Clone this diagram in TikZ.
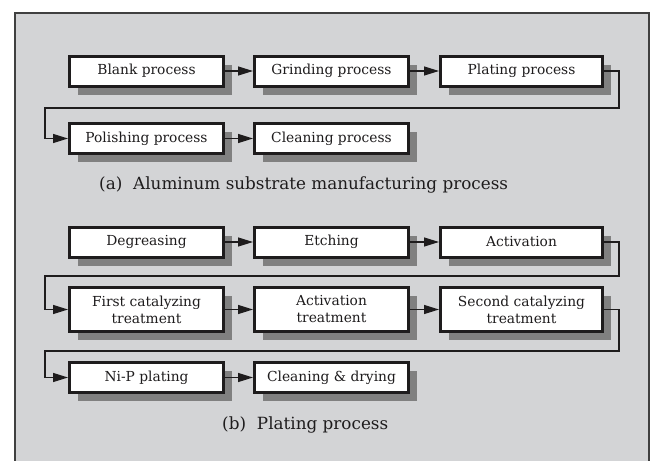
\documentclass[tikz,border=0pt]{standalone}
\usepackage{fontspec}
\setmainfont{DejaVu Serif}
\usetikzlibrary{arrows.meta,shadows}

\definecolor{panelgray}{RGB}{211,212,214}
\definecolor{shadowgray}{RGB}{128,128,128}
\definecolor{inkblack}{RGB}{30,28,29}

\tikzset{
  proc/.style={draw=inkblack, line width=3pt, fill=white, inner sep=0pt,
    minimum width=154pt, minimum height=30pt, align=center, text=inkblack,
    font=\fontsize{13.8}{17}\selectfont,
    drop shadow={shadow xshift=8.5pt, shadow yshift=-8.5pt,
      fill=shadowgray, opacity=1}},
  wider/.style={minimum width=162pt},
  tall/.style={minimum height=44pt},
  flow/.style={draw=inkblack, line width=1.3pt,
    -{Triangle[length=15pt,width=9pt]}},
  caption/.style={anchor=base west, inner sep=0pt, text=inkblack,
    font=\fontsize{16.8}{20}\selectfont}
}

\begin{document}
\begin{tikzpicture}[x=1pt,y=-1pt]
  \useasboundingbox (0,0) rectangle (654,461);
  % panel
  \draw[draw=black!75, line width=1.5pt, fill=panelgray] (15,13) rectangle (649,475);

  % (a) aluminum substrate
  \node[proc] (blank) at (146.5,71) {Blank process};
  \node[proc] (grind) at (331.5,71) {Grinding process};
  \node[proc,wider] (platea) at (521.5,71) {Plating process};
  \node[proc] (polish) at (146.5,138.5) {Polishing process};
  \node[proc] (cleana) at (331.5,138.5) {Cleaning process};
  \coordinate (ra) at (619,108);
  \coordinate (la) at (45,108);
  \draw[flow] (blank) -- (grind);
  \draw[flow] (grind) -- (platea);
  \draw[flow] (platea.east) -| (ra) -- (la) |- (polish.west);
  \draw[flow] (polish) -- (cleana);
  \node[caption] (capa) at (99,189)
    {(a)\hspace{0.65em}Aluminum substrate manufacturing process};

  % (b) plating
  \node[proc] (degrease) at (146.5,242) {Degreasing};
  \node[proc] (etch) at (331.5,242) {Etching};
  \node[proc,wider] (activ) at (521.5,242) {Activation};
  \node[proc,tall] (firstcat) at (146.5,309.5) {First catalyzing\\treatment};
  \node[proc,tall] (activtr) at (331.5,309.5) {Activation\\treatment};
  \node[proc,tall,wider] (secondcat) at (521.5,309.5) {Second catalyzing\\treatment};
  \node[proc] (nip) at (146.5,377.5) {Ni-P plating};
  \node[proc] (cleandry) at (331.5,377.5) {Cleaning \& drying};
  \coordinate (rb) at (619,276);
  \coordinate (lb) at (45,276);
  \coordinate (rc) at (619,351);
  \coordinate (lc) at (45,351);
  \draw[flow] (degrease) -- (etch);
  \draw[flow] (etch) -- (activ);
  \draw[flow] (activ.east) -| (rb) -- (lb) |- (firstcat.west);
  \draw[flow] (firstcat) -- (activtr);
  \draw[flow] (activtr) -- (secondcat);
  \draw[flow] (secondcat.east) -| (rc) -- (lc) |- (nip.west);
  \draw[flow] (nip) -- (cleandry);
  \node[caption] (capb) at (222,429) {(b)\hspace{0.65em}Plating process};
\end{tikzpicture}
\end{document}
